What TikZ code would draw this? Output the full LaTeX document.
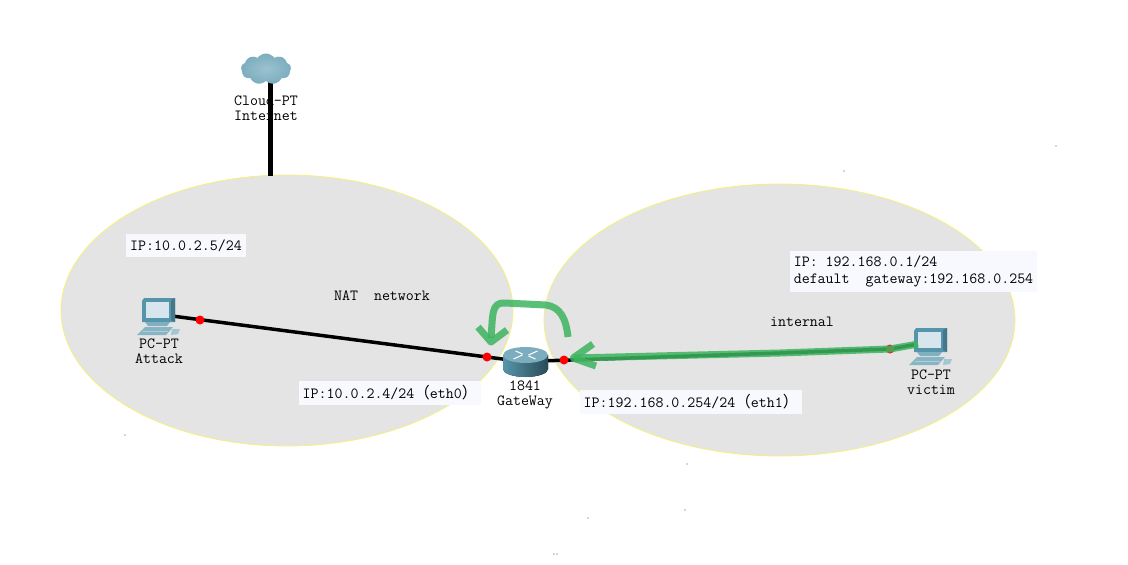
\documentclass[tikz,border=0pt]{standalone}
\usepackage{fontspec}
\usepackage{xcolor}
\usepackage{tikz}
\usetikzlibrary{arrows.meta,shapes.geometric,shapes.symbols}
\newfontfamily\cjk{Noto Sans CJK SC}

\definecolor{netgray}{HTML}{E4E4E4}
\definecolor{netedge}{HTML}{F4F27A}
\definecolor{labelbg}{HTML}{F8F9FF}
\definecolor{pathgreen}{HTML}{3DB45F}
\definecolor{pcdark}{HTML}{5595AB}
\definecolor{pclight}{HTML}{D6E6EC}

\tikzset{
    netzone/.style = {ellipse, draw=netedge, fill=netgray, inner sep=0, line width=0.8pt},
    iplabel/.style = {fill=labelbg, align=left, inner xsep=4pt, inner ysep=5pt,
                      font=\fontsize{15.5}{16.5}\selectfont\ttfamily},
    devlabel/.style = {align=center, inner sep=0, font=\fontsize{15.5}{15}\selectfont\ttfamily},
    pcicon/.pic = {
        % origin is the top left corner of the monitor
        \fill[pcdark] (2,0) -- (33,0) -- (33,24) -- (0,24) -- (0,3) -- cycle;
        \fill[pclight] (4,4) -- (27,4) -- (27,20) -- (4,20) -- cycle;
        \fill[pcdark!80!black] (29,2) -- (33,0) -- (33,24) -- (29,22) -- cycle;
        \fill[pcdark!75] (3,24) -- (28,24) -- (25,28) -- (6,28) -- cycle;
        \fill[pcdark!70] (3,29) -- (31,29) -- (24,37) -- (-5,37) -- cycle;
        \draw[pclight!70!pcdark, line width=0.8pt] (1,33) -- (26,33);
        \fill[pclight!60!pcdark] (30,31) -- (38,31) -- (36,36) -- (29,37) -- cycle;
    },
    routericon/.pic = {
        % origin is the middle of the top face
        \fill[left color=pcdark, middle color=pclight, right color=pcdark!50!black]
            (-22.5,0) -- (-22.5,14) arc[start angle=180, end angle=0, x radius=22.5, y radius=8]
            -- (22.5,0) -- cycle;
        \fill[pcdark!70!pclight] (0,0) ellipse[x radius=22.5, y radius=8];
        \draw[white, line width=1pt] (-12,4) -- (-3,0) (12,-4) -- (3,0) (-10,-4) -- (-3,-1) (10,4) -- (3,1);
    },
}

\begin{document}
\begin{tikzpicture}[x=1pt, y=-1pt]
    \useasboundingbox (0,0) rectangle (1128,565);

    % networks
    \node[netzone, minimum width=452pt, minimum height=271pt] (NAT) at (287,310.5) {};
    \node[netzone, minimum width=471pt, minimum height=272pt] (INT) at (779.5,320) {};

    % texts go under the links
    \node[devlabel] (cloudText) at (266,108) {Cloud-PT\\Internet};
    \node[devlabel] (attackText) at (159,351) {PC-PT\\Attack};
    \node[devlabel] (routerText) at (525,395) {1841\\GateWay};
    \node[devlabel] (victimText) at (931,382) {PC-PT\\victim};

    \node[devlabel] (natText) at (382,296) {NAT\ \ network};
    \node[devlabel] (intText) at (802,322) {internal};

    \node[iplabel] (attackIP) at (186,245.5) {IP:10.0.2.5/24};
    \node[iplabel] (eth0IP) at (390,393) {IP:10.0.2.4/24{\cjk （}eth0{\cjk ）}};
    \node[iplabel] (eth1IP) at (691,402) {IP:192.168.0.254/24{\cjk （}eth1{\cjk ）}};
    \node[iplabel] (victimIP) at (913.5,271.5) {IP: 192.168.0.1/24\\default\ \ gateway:192.168.0.254};

    % link ends
    \coordinate (cloudEnd) at (270,80);
    \coordinate (natEnd) at (270,176);
    \coordinate (attackEnd) at (172,316);
    \coordinate (routerL) at (510,360);
    \coordinate (routerR) at (540,361);
    \coordinate (victimEnd) at (918,344);
    \coordinate (victimBend) at (890,349);
    \coordinate (victimMid) at (780,353);
    \coordinate (routerTip) at (574,358);

    \begin{scope}[every edge/.style={draw=black, line width=3.5pt}]
        \path (attackEnd) edge (routerL);
        \path (routerR) edge (victimMid);
        \path (victimMid) edge (victimBend);
        \path (victimBend) edge (victimEnd);
    \end{scope}
    \path[draw=black, line width=5pt] (cloudEnd) -- (natEnd);

    % devices
    \node[cloud, cloud puffs=9, cloud puff arc=110, aspect=1.7, inner sep=0,
          minimum width=50pt, minimum height=31pt,
          inner color=pclight!55!pcdark, outer color=pcdark!70!pclight] (cloud) at (266,69) {};
    \pic at (142,298) {pcicon};
    \pic at (914,328) {pcicon};
    \pic at (525.5,355) {routericon};

    % red dots
    \begin{scope}[every node/.style={circle, fill=red, inner sep=0, minimum size=9pt}]
        \node (attackDot) at (200,320) {};
        \node (eth0Dot) at (487,357) {};
        \node (eth1Dot) at (564,360) {};
        \node (victimDot) at (890,349) {};
    \end{scope}

    % hand drawn path
    \begin{scope}[draw=pathgreen, draw opacity=0.85, line join=round]
        \draw[line width=7pt] (victimEnd) -- (victimBend) -- (victimMid) -- (routerTip);
        \draw[line width=7pt] (593,344) -- (573,358) -- (596,366);
        \draw[line width=7pt] (568,337) .. controls (566,318) and (560,307) .. (546,305)
            -- (505,303) .. controls (491,302) and (493,315) .. (491,338);
        \draw[line width=7pt] (478,327) -- (491,342) -- (507,330);
    \end{scope}

    % specks
    \foreach \px/\py in {125/435, 844/171, 1056/146, 687/464, 588/518, 685/510, 554/554, 557/554}
        \fill[black!70] (\px,\py) circle[radius=0.6];
\end{tikzpicture}
\end{document}
